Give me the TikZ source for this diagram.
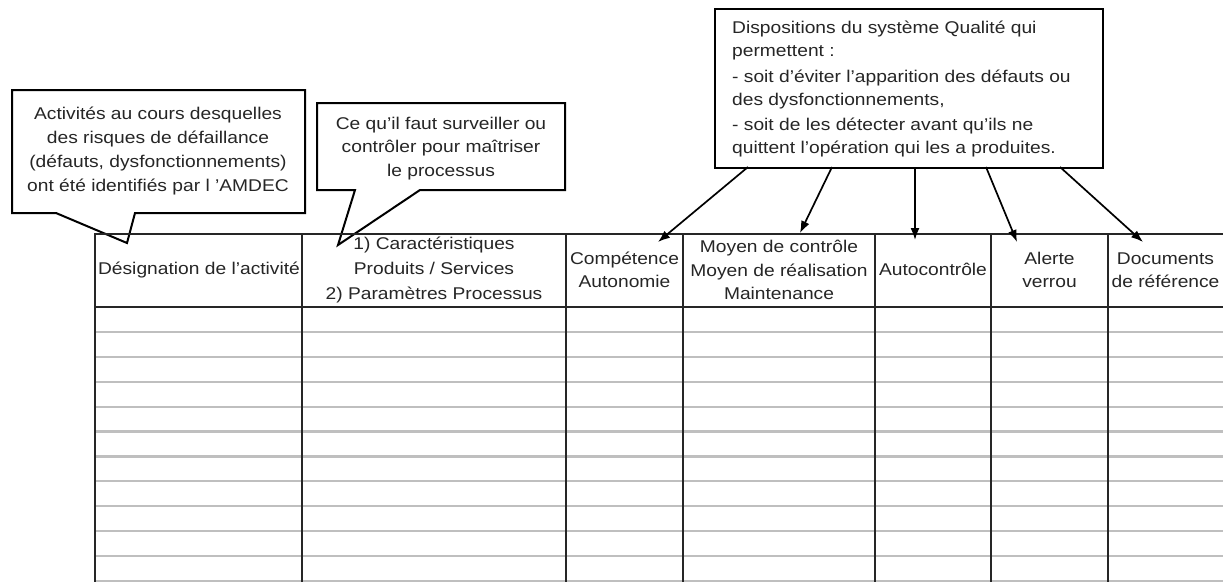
\documentclass[tikz,border=0pt]{standalone}
\usepackage{fontspec}
\setmainfont{Liberation Sans}[FakeStretch=1.13]
\usetikzlibrary{arrows.meta}

\begin{document}
\begin{tikzpicture}[x=1pt,y=-1pt,
  callout/.style={draw=black, fill=white, line width=2pt, line join=miter},
  txt/.style={inner sep=0pt, align=center, text=black!85, font=\fontsize{17}{24}\selectfont},
  rule/.style={draw=black!85, line width=1.9pt},
  rowline/.style={draw=gray!50, line width=2.2pt},
  pointer/.style={draw=black, line width=1.7pt, -{Latex[length=12pt,width=9pt]}}]
\useasboundingbox (0,0) rectangle (1223,582);
\fill[white] (0,0) rectangle (1223,582);

% light row rules of the table body
\foreach \k in {1,...,10}
  \draw[rowline] (95,{307+24.9*\k}) -- (1223,{307+24.9*\k});
\draw[rowline] (95,581) -- (1223,581);

% speech-bubble callouts
\draw[callout] (12,90) -- (305,90) -- (305,213) -- (135,213) -- (127,243)
  -- (56,213) -- (12,213) -- cycle;
\node[txt] (activites) at (158,151)
  {Activités au cours desquelles\\ des risques de défaillance\\
   (défauts, dysfonctionnements)\\ ont été identifiés par l 'AMDEC};

\draw[callout] (317,103) -- (565,103) -- (565,190) -- (420,190) -- (338,245)
  -- (355,190) -- (317,190) -- cycle;
\node[txt, font=\fontsize{17}{23.5}\selectfont] (surveiller) at (441,148.5)
  {Ce qu'il faut surveiller ou\\ contrôler pour maîtriser\\ le processus};

% quality-system box
\node[draw=black, fill=white, line width=2pt, minimum width=388pt,
  minimum height=159pt, anchor=north west, inner sep=0pt] (qbox) at (714,8) {};
\node[inner sep=0pt, align=left, anchor=north west, text=black!85,
  font=\fontsize{17}{23}\selectfont] (qtext) at (732,21)
  {Dispositions du système Qualité qui\\ permettent :\\[3pt]
   - soit d'éviter l'apparition des défauts ou\\ des dysfonctionnements,\\[2pt]
   - soit de les détecter avant qu'ils ne\\ quittent l'opération qui les a produites.};

% table frame and column rules
\draw[rule] (1223,234) -- (95,234) -- (95,582);
\draw[rule] (95,307) -- (1223,307);
\foreach \x in {302,566,683,875,991,1108}
  \draw[rule] (\x,234) -- (\x,582);

% header cells
\node[txt] (designation) at (199,270) {Désignation de l'activité};
\node[txt, font=\fontsize{17}{25}\selectfont] (caract) at (434,270)
  {1) Caractéristiques\\ Produits / Services\\ 2) Paramètres Processus};
\node[txt, font=\fontsize{17}{23}\selectfont] (competence) at (624.5,270)
  {Compétence\\ Autonomie};
\node[txt, font=\fontsize{17}{23.5}\selectfont] (moyens) at (779,270)
  {Moyen de contrôle\\ Moyen de réalisation\\ Maintenance};
\node[txt] (autocontrole) at (933,269) {Autocontrôle};
\node[txt, font=\fontsize{17}{23}\selectfont] (alerte) at (1049.5,270)
  {Alerte\\ verrou};
\node[txt, font=\fontsize{17}{23}\selectfont] (documents) at (1165.5,270)
  {Documents\\ de référence};

% arrows from the quality-system box to the header columns
\coordinate (s1) at (748,167);  \coordinate (e1) at (658,242);
\coordinate (s2) at (832,167);  \coordinate (e2) at (800,233);
\coordinate (s3) at (915,167);  \coordinate (e3) at (915,240);
\coordinate (s4) at (986,167);  \coordinate (e4) at (1017,242);
\coordinate (s5) at (1060,167); \coordinate (e5) at (1143,242);
\foreach \i in {1,...,5}
  \draw[pointer] (s\i) -- (e\i);
\end{tikzpicture}
\end{document}
